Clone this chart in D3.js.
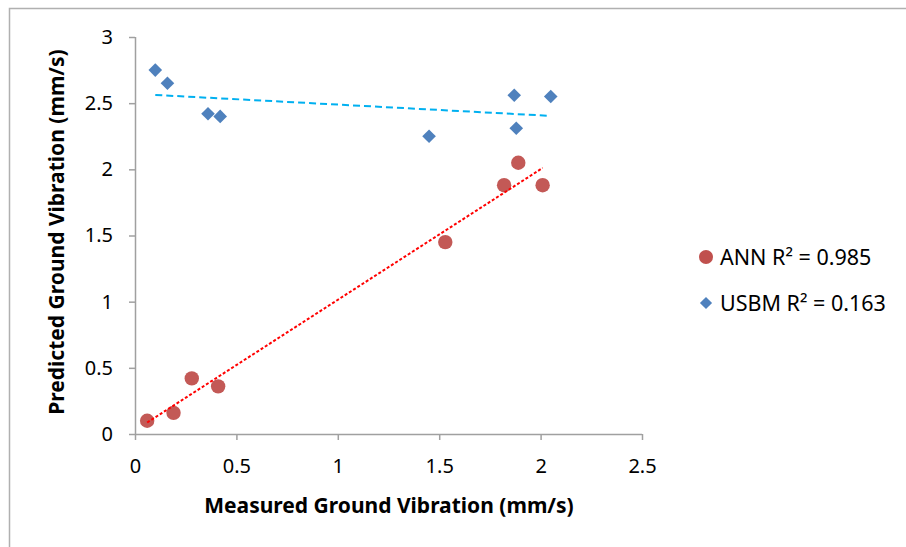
<!DOCTYPE html>
<html>
<head>
<meta charset="utf-8">
<script src="https://cdn.jsdelivr.net/npm/d3@7"></script>
<style>
  body { margin: 0; background: #fff; }
  svg { font-family: "Noto Sans", "Open Sans", sans-serif; }
</style>
</head>
<body>
<svg id="chart" width="906" height="547"></svg>
<script>
// measured vs predicted values
const annMeasured = [0.06, 0.19, 0.28, 0.41, 1.53, 1.82, 1.89, 2.01];
const annPredicted = [0.10, 0.16, 0.42, 0.36, 1.45, 1.88, 2.05, 1.88];
const usbmMeasured = [0.10, 0.16, 0.36, 0.42, 1.45, 1.87, 1.88, 2.05];
const usbmPredicted = [2.75, 2.65, 2.42, 2.40, 2.25, 2.56, 2.31, 2.55];
const xTicks = [0, 0.5, 1, 1.5, 2, 2.5];
const yTicks = [0, 0.5, 1, 1.5, 2, 2.5, 3];
const legendLabels = ["ANN R\u00b2 = 0.985", "USBM R\u00b2 = 0.163"];

const svg = d3.select("#chart");

// outer frame (only left and top edges show in the picture)
svg.append("path")
  .attr("d", "M9.5,547V8.5H906")
  .attr("fill", "none")
  .attr("stroke", "#b0b0b0")
  .attr("stroke-width", 1.5);

const x = d3.scaleLinear().domain([0, 2.5]).range([135, 642]);
const y = d3.scaleLinear().domain([0, 3]).range([434, 37]);

const axisColor = "#a0a0a0";

const xAxis = svg.append("g")
  .attr("transform", `translate(0,${y(0)})`)
  .call(d3.axisBottom(x).tickValues(xTicks).tickFormat(d3.format("")).tickSize(6).tickPadding(19));
const yAxis = svg.append("g")
  .attr("transform", `translate(${x(0)},0)`)
  .call(d3.axisLeft(y).tickValues(yTicks).tickFormat(d3.format("")).tickSize(6).tickPadding(16));

[xAxis, yAxis].forEach(g => {
  g.select(".domain").attr("stroke", axisColor).attr("stroke-width", 1.5);
  g.selectAll(".tick line").attr("stroke", axisColor).attr("stroke-width", 1.5);
  g.selectAll(".tick text")
    .attr("fill", "#000")
    .style("font-size", "20px")
    .style("font-family", "'Noto Sans', sans-serif");
});
// domain paths from d3 include outer ticks; redraw as plain lines
xAxis.select(".domain").attr("d", `M${x(0)},0.5H${x(2.5)}`);
yAxis.select(".domain").attr("d", `M0.5,${y(3)}V${y(0)}`);

svg.append("text")
  .attr("x", 389)
  .attr("y", 513)
  .attr("text-anchor", "middle")
  .style("font-size", "21px")
  .style("font-weight", "bold")
  .text("Measured Ground Vibration (mm/s)");

svg.append("text")
  .attr("transform", "translate(64,232) rotate(-90)")
  .attr("text-anchor", "middle")
  .style("font-size", "21px")
  .style("font-weight", "bold")
  .text("Predicted Ground Vibration (mm/s)");

// least squares trend over the range of each series
const fit = (xs, ys) => {
  const mx = d3.mean(xs), my = d3.mean(ys);
  const b = d3.sum(xs, (v, i) => (v - mx) * (ys[i] - my)) / d3.sum(xs, v => (v - mx) ** 2);
  const a = my - b * mx;
  const [x0, x1] = d3.extent(xs);
  return [[x0, a + b * x0], [x1, a + b * x1]];
};

const line = d3.line().x(d => x(d[0])).y(d => y(d[1]));

svg.append("path")
  .attr("d", line(fit(usbmMeasured, usbmPredicted)))
  .attr("fill", "none")
  .attr("stroke", "#00b0f0")
  .attr("stroke-width", 2)
  .attr("stroke-dasharray", "7,4");

const diamond = d3.symbol().type(d3.symbolDiamond2).size(118);

svg.append("g").selectAll("path")
  .data(usbmMeasured.map((v, i) => [v, usbmPredicted[i]]))
  .join("path")
  .attr("d", diamond)
  .attr("transform", d => `translate(${x(d[0])},${y(d[1])})`)
  .attr("fill", "#4f81bd");

svg.append("g").selectAll("circle")
  .data(annMeasured.map((v, i) => [v, annPredicted[i]]))
  .join("circle")
  .attr("cx", d => x(d[0]))
  .attr("cy", d => y(d[1]))
  .attr("r", 7.2)
  .attr("fill", "#c0504d")
  .attr("fill-opacity", 0.95);

svg.append("path")
  .attr("d", line(fit(annMeasured, annPredicted)))
  .attr("fill", "none")
  .attr("stroke", "#ff0000")
  .attr("stroke-width", 2)
  .attr("stroke-dasharray", "3,2");

// legend
const legend = svg.append("g");
legend.append("circle")
  .attr("cx", 706).attr("cy", 257).attr("r", 7)
  .attr("fill", "#c0504d");
legend.append("path")
  .attr("d", d3.symbol().type(d3.symbolDiamond2).size(95))
  .attr("transform", "translate(706,303)")
  .attr("fill", "#4f81bd");
legend.selectAll("text")
  .data(legendLabels)
  .join("text")
  .attr("x", 720)
  .attr("y", (d, i) => 257 + i * 46)
  .attr("dy", "0.35em")
  .style("font-size", "21.5px")
  .text(d => d);
</script>
</body>
</html>
